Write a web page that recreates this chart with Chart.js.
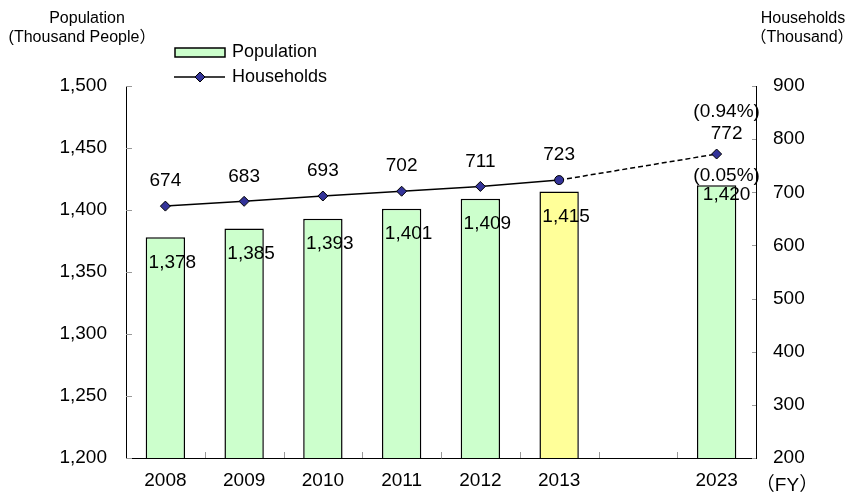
<!DOCTYPE html>
<html>
<head>
<meta charset="utf-8">
<script src="https://cdn.jsdelivr.net/npm/chart.js@4"></script>
<style>
  html, body { margin: 0; padding: 0; background: #fff; }
  #wrap { width: 851px; height: 496px; }
</style>
</head>
<body>
<div id="wrap"><canvas id="myChart" width="851" height="496"></canvas></div>
<script>
// data
const years = ['2008', '2009', '2010', '2011', '2012', '2013', '', '2023'];
const population = [1378, 1385, 1393, 1401, 1409, 1415, null, 1420];
const households = [674, 683, 693, 702, 711, 723, null, 772];
const popGrowth = [null, null, null, null, null, null, null, '(0.05%)'];
const hhGrowth = [null, null, null, null, null, null, null, '(0.94%)'];
const popTicks = [1200, 1250, 1300, 1350, 1400, 1450, 1500];
const hhTicks = [200, 300, 400, 500, 600, 700, 800, 900];

const FONT = '"Liberation Sans", Arial, "Noto Sans CJK JP", sans-serif';
const green = '#CCFFCC';
const yellow = '#FFFF99';
const navy = '#333399';

const barColors = years.map(y => y === '2013' ? yellow : green);
const pointStyles = years.map(y => y === '2013' ? 'circle' : 'rectRot');
const pointSizes = years.map(y => y === '2013' ? 4.5 : 5);

const fmt = v => v.toLocaleString('en-US');

// labels, titles, legend and the little inward ticks
const extras = {
  id: 'extras',
  afterDatasetsDraw(chart) {
    const c = chart.ctx;
    const x = chart.scales.x, y = chart.scales.y, y1 = chart.scales.y1;
    c.save();
    c.fillStyle = '#000';
    c.font = '19px ' + FONT;
    c.textAlign = 'center';
    c.textBaseline = 'middle';
    population.forEach((v, i) => {
      if (v == null) return;
      const px = x.getPixelForValue(i);
      const top = y.getPixelForValue(v);
      const shift = popGrowth[i] ? 10 : 7;
      c.fillText(fmt(v), px + shift, top + (popGrowth[i] ? 10 : 25));
      if (popGrowth[i]) c.fillText(popGrowth[i], px + shift, top - 9);
    });
    households.forEach((v, i) => {
      if (v == null) return;
      const px = x.getPixelForValue(i);
      const py = y1.getPixelForValue(v);
      if (hhGrowth[i]) {
        c.fillText(fmt(v), px + 10, py - 20);
        c.fillText(hhGrowth[i], px + 10, py - 42);
      } else {
        c.fillText(fmt(v), px, py - 25);
      }
    });
    c.restore();
  },
  afterDraw(chart) {
    const c = chart.ctx;
    const a = chart.chartArea;
    const x = chart.scales.x, y = chart.scales.y, y1 = chart.scales.y1;
    c.save();
    // tick marks inside the plot
    c.strokeStyle = '#999';
    c.lineWidth = 1;
    c.beginPath();
    popTicks.forEach(t => {
      const py = Math.round(y.getPixelForValue(t)) + 0.5;
      c.moveTo(a.left, py); c.lineTo(a.left + 6, py);
    });
    hhTicks.forEach(t => {
      const py = Math.round(y1.getPixelForValue(t)) + 0.5;
      c.moveTo(a.right - 4, py); c.lineTo(a.right, py);
    });
    for (let i = 1; i < years.length; i++) {
      const px = Math.round((x.getPixelForValue(i - 1) + x.getPixelForValue(i)) / 2) + 0.5;
      c.moveTo(px, a.bottom); c.lineTo(px, a.bottom - 6);
    }
    c.stroke();

    // axis titles
    c.fillStyle = '#000';
    c.textAlign = 'center';
    c.textBaseline = 'middle';
    c.font = '16px ' + FONT;
    c.fillText('Population', 87, 19);
    c.fillText('(Thousand People\uFF09', 82, 38);
    c.fillText('Households', 803, 19);
    c.fillText('\uFF08Thousand\uFF09', 802, 38);
    c.font = '19px ' + FONT;
    c.fillText('\uFF08FY\uFF09', 787, 486);

    // legend
    c.fillStyle = green;
    c.strokeStyle = '#000';
    c.lineWidth = 1.5;
    c.fillRect(175, 48, 50, 9);
    c.strokeRect(175, 48, 50, 9);
    c.beginPath();
    c.moveTo(174, 77); c.lineTo(225, 77);
    c.stroke();
    c.fillStyle = navy;
    c.lineWidth = 1;
    c.beginPath();
    c.moveTo(200, 72); c.lineTo(205, 77); c.lineTo(200, 82); c.lineTo(195, 77); c.closePath();
    c.fill(); c.stroke();
    c.fillStyle = '#000';
    c.textAlign = 'left';
    c.font = '18px ' + FONT;
    c.fillText('Population', 232, 52);
    c.fillText('Households', 232, 77);
    c.restore();
  }
};

const ctx = document.getElementById('myChart').getContext('2d');
const myChart = new Chart(ctx, {
  type: 'bar',
  data: {
    labels: years,
    datasets: [{
      type: 'line',
      label: 'Households',
      data: households,
      yAxisID: 'y1',
      order: 0,
      borderColor: '#000',
      borderWidth: 1.5,
      pointStyle: pointStyles,
      pointRadius: pointSizes,
      pointBackgroundColor: navy,
      pointBorderColor: '#000',
      pointBorderWidth: 1,
      spanGaps: true,
      tension: 0,
      segment: {
        borderDash: s => s.p1DataIndex > 5 ? [5, 3] : undefined
      }
    }, {
      type: 'bar',
      label: 'Population',
      data: population,
      yAxisID: 'y',
      order: 1,
      backgroundColor: barColors,
      borderColor: '#000',
      borderWidth: 1.5,
      barPercentage: 0.5,
      categoryPercentage: 1.0
    }]
  },
  options: {
    responsive: false,
    animation: false,
    layout: { padding: { top: 86, left: 0, right: 0, bottom: 0 } },
    plugins: {
      legend: { display: false },
      tooltip: { enabled: false }
    },
    scales: {
      x: {
        offset: true,
        grid: { display: false, drawTicks: false },
        border: { color: '#000', width: 1 },
        ticks: { color: '#000', font: { size: 19, family: FONT }, padding: 11, maxRotation: 0, autoSkip: false },
        afterFit: s => { s.height = 38; }
      },
      y: {
        position: 'left',
        min: 1200,
        max: 1500,
        grid: { display: false, drawTicks: false },
        border: { color: '#000', width: 1 },
        ticks: { stepSize: 50, color: '#000', font: { size: 19, family: FONT }, padding: 19, callback: v => fmt(v) },
        afterFit: s => { s.width = 126; }
      },
      y1: {
        position: 'right',
        min: 200,
        max: 900,
        grid: { display: false, drawTicks: false },
        border: { color: '#000', width: 1 },
        ticks: { stepSize: 100, color: '#000', font: { size: 19, family: FONT }, padding: 17 },
        afterFit: s => { s.width = 95; }
      }
    }
  },
  plugins: [extras]
});
</script>
</body>
</html>
